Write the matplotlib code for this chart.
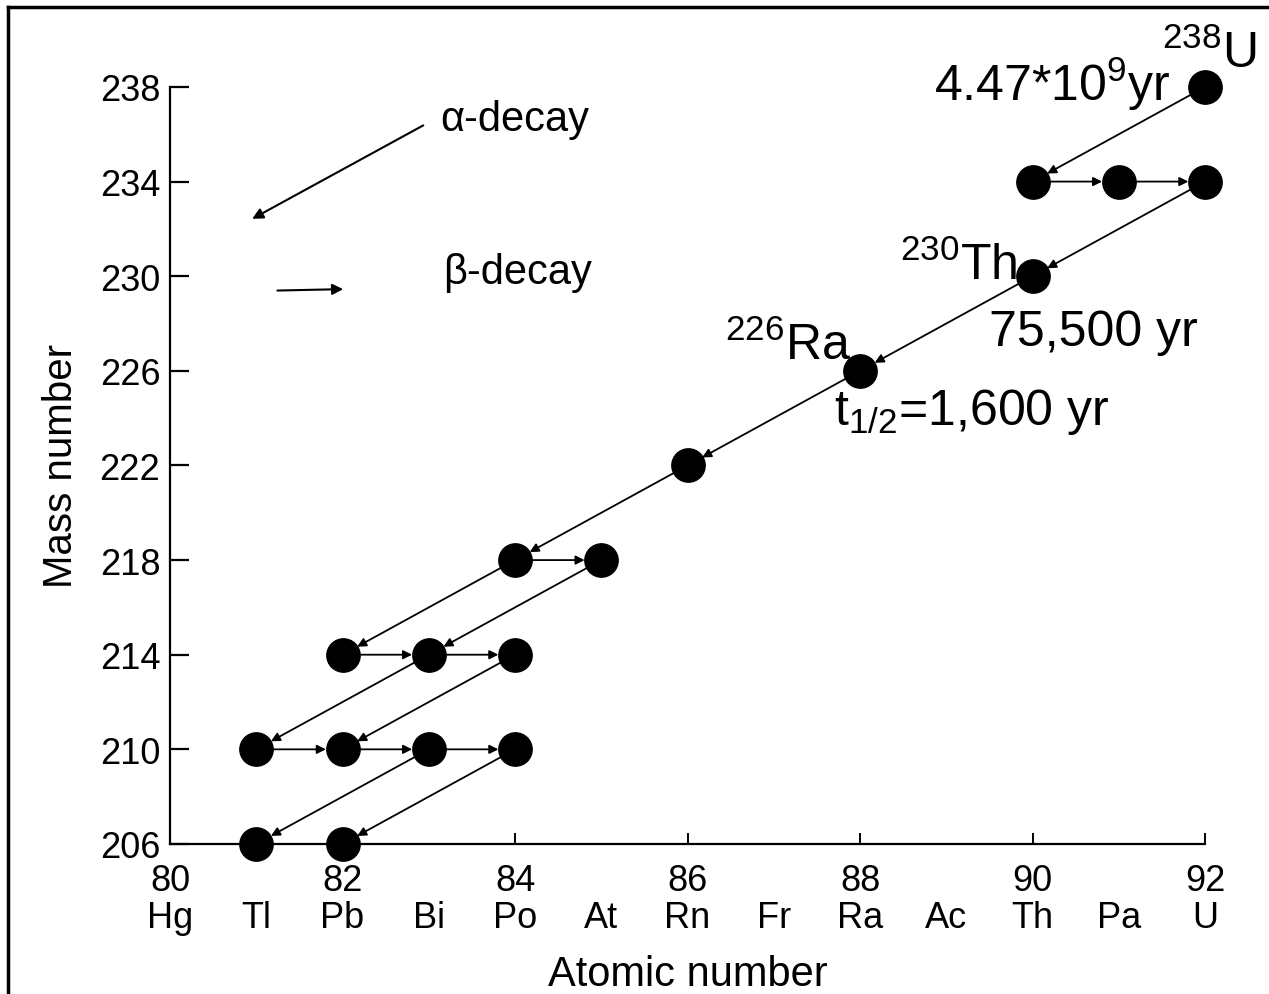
import matplotlib
matplotlib.use("Agg")
import matplotlib.pyplot as plt
from matplotlib.lines import Line2D

plt.rcParams["font.family"] = ["Liberation Sans", "DejaVu Sans"]
plt.rcParams["mathtext.fontset"] = "custom"
plt.rcParams["mathtext.rm"] = "Liberation Sans"
plt.rcParams["mathtext.it"] = "Liberation Sans:italic"
plt.rcParams["mathtext.bf"] = "Liberation Sans:bold"

# nuclides of the U-238 chain: atomic number Z, mass number A
Z = [92, 92, 91, 90, 90, 88, 86, 84, 85, 82, 83, 84, 81, 82, 83, 84, 81, 82]
A = [238, 234, 234, 234, 230, 226, 222, 218, 218, 214, 214, 214, 210, 210, 210, 210, 206, 206]

alpha_decays = [
    ((92, 238), (90, 234)),
    ((92, 234), (90, 230)),
    ((90, 230), (88, 226)),
    ((88, 226), (86, 222)),
    ((86, 222), (84, 218)),
    ((84, 218), (82, 214)),
    ((85, 218), (83, 214)),
    ((83, 214), (81, 210)),
    ((84, 214), (82, 210)),
    ((83, 210), (81, 206)),
    ((84, 210), (82, 206)),
]
beta_decays = [
    ((90, 234), (91, 234)),
    ((91, 234), (92, 234)),
    ((84, 218), (85, 218)),
    ((82, 214), (83, 214)),
    ((83, 214), (84, 214)),
    ((81, 210), (82, 210)),
    ((82, 210), (83, 210)),
    ((83, 210), (84, 210)),
]

z_ticks = list(range(80, 93))
elements = ["Hg", "Tl", "Pb", "Bi", "Po", "At", "Rn", "Fr", "Ra", "Ac", "Th", "Pa", "U"]
a_ticks = list(range(206, 239, 4))

fig = plt.figure(figsize=(12.69, 9.95), dpi=100)
ax = fig.add_axes([0.134, 0.1508, 0.8156, 0.7608])

arrow_kw = dict(arrowstyle="-|>", color="black", lw=1.3, mutation_scale=13,
                shrinkA=0, shrinkB=12)
for (z0, a0), (z1, a1) in alpha_decays + beta_decays:
    ax.annotate("", xy=(z1, a1), xytext=(z0, a0), arrowprops=arrow_kw,
                annotation_clip=False, zorder=2)

ax.plot(Z, A, "o", color="black", ms=24, clip_on=False, zorder=3)

# legend-like arrows (axes fraction)
ax.annotate("", xy=(0.077, 0.824), xytext=(0.247, 0.951), xycoords="axes fraction",
            arrowprops=dict(arrowstyle="-|>", color="black", lw=1.5, mutation_scale=16))
ax.annotate("", xy=(0.170, 0.733), xytext=(0.101, 0.731), xycoords="axes fraction",
            arrowprops=dict(arrowstyle="-|>", color="black", lw=1.5, mutation_scale=16))
ax.text(0.261, 0.958, "α-decay", transform=ax.transAxes, fontsize=30, va="center")
ax.text(0.264, 0.755, "β-decay", transform=ax.transAxes, fontsize=30, va="center")

# nuclide annotations
ax.text(92.6, 238.85, "$^{238}$U", fontsize=36, ha="right", va="baseline")
ax.text(91.6, 237.45, "4.47*10$^{9}$yr", fontsize=36, ha="right", va="baseline")
ax.text(89.83, 229.9, "$^{230}$Th", fontsize=36, ha="right", va="baseline")
ax.text(89.5, 227.1, "75,500 yr", fontsize=36, ha="left", va="baseline")
ax.text(87.9, 226.5, "$^{226}$Ra", fontsize=36, ha="right", va="baseline")
ax.text(87.7, 223.75, "t$_{1/2}$=1,600 yr", fontsize=36, ha="left", va="baseline")

ax.set_xlim(80, 92)
ax.set_ylim(206, 238)
ax.spines["top"].set_visible(False)
ax.spines["right"].set_visible(False)
for s in ("left", "bottom"):
    ax.spines[s].set_linewidth(1.6)

ax.set_yticks(a_ticks)
ax.set_yticklabels([str(a) for a in a_ticks])
ax.tick_params(axis="y", direction="in", length=14, width=1.6, labelsize=26, pad=7)

major_z = [z for z in z_ticks if z % 2 == 0]
minor_z = [z for z in z_ticks if z % 2 == 1]
ax.set_xticks(major_z)
ax.set_xticklabels([f"{z}\n{elements[z_ticks.index(z)]}" for z in major_z])
ax.set_xticks(minor_z, minor=True)
ax.set_xticklabels([f" \n{elements[z_ticks.index(z)]}" for z in minor_z], minor=True)
ax.tick_params(axis="x", which="major", direction="in", length=8, width=1.4,
               labelsize=26, pad=14)
ax.tick_params(axis="x", which="minor", direction="in", length=0, labelsize=26, pad=14)
for lab in ax.get_xticklabels() + ax.get_xticklabels(minor=True):
    lab.set_linespacing(1.05)

ax.set_xlabel("Atomic number", fontsize=30, labelpad=14)
ax.set_ylabel("Mass number", fontsize=29, labelpad=14)

# frame lines of the original picture
fig.add_artist(Line2D([8 / 1269, 8 / 1269], [0, 1 - 8 / 995], color="black", lw=2.5,
                      transform=fig.transFigure))
fig.add_artist(Line2D([8 / 1269, 1], [1 - 8 / 995, 1 - 8 / 995], color="black", lw=2.5,
                      transform=fig.transFigure))

fig.savefig("out.png", dpi=100)
